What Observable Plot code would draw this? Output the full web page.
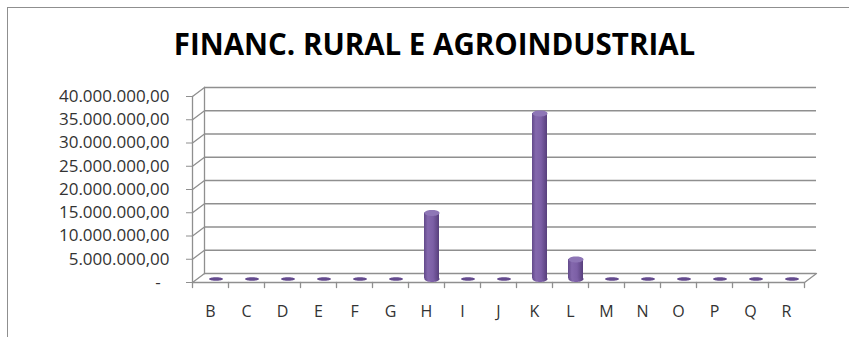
<!DOCTYPE html>
<html><head><meta charset="utf-8">
<script src="https://cdn.jsdelivr.net/npm/d3@7"></script>
<script src="https://cdn.jsdelivr.net/npm/@observablehq/plot@0.6"></script>
<style>
body{margin:0;background:#fff;width:849px;height:337px;overflow:hidden;position:relative;font-family:"Open Sans",sans-serif}
#frame{position:absolute;left:7px;top:7px;width:900px;height:400px;border:1px solid #8f8f8f;}
#title{position:absolute;left:10px;width:849px;top:26px;text-align:center;font-weight:bold;font-size:29.5px;font-family:"Open Sans",sans-serif;color:#000;line-height:36px}
#chart{position:absolute;left:0;top:0}
</style></head><body>
<div id="frame"></div>
<div id="title">FINANC. RURAL E AGROINDUSTRIAL</div>
<div id="chart"></div>
<script>
const categories = ["B","C","D","E","F","G","H","I","J","K","L","M","N","O","P","Q","R"];
const values = [0,0,0,0,0,0,14200000,0,0,35600000,4200000,0,0,0,0,0,0];
const yTicks = [0,5000000,10000000,15000000,20000000,25000000,30000000,35000000,40000000];

const data = categories.map((c, i) => ({cat: c, value: values[i]}));
const br = d3.formatLocale({decimal: ",", thousands: ".", grouping: [3], currency: ["R$", ""]}).format(",.2f");
const fmt = d => d === 0 ? "-\u00a0\u00a0" : br(d);

const grid = "#8f8f8f";
const line = {draw(ctx, l) { ctx.moveTo(0, 0); ctx.lineTo(0, -l); }};
const ellipse = (rx, ry) => ({draw(ctx) {
  ctx.moveTo(rx, 0);
  for (let i = 1; i <= 40; i++) { const a = i / 40 * 2 * Math.PI; ctx.lineTo(rx * Math.cos(a), ry * Math.sin(a)); }
  ctx.closePath();
}});
const BDX = 5.5, BDY = -3.5;

const svg = Plot.plot({
  width: 849, height: 337,
  marginLeft: 192, marginRight: 45, marginTop: 96, marginBottom: 55,
  style: {background: "transparent", overflow: "visible", fontFamily: "'Open Sans', sans-serif"},
  x: {type: "band", domain: categories, padding: 0, label: null},
  y: {domain: [0, 40000000], label: null},
  marks: [
    Plot.ruleY(yTicks, {dx: 12, dy: -9, stroke: grid, strokeWidth: 1.3}),
    Plot.frame({anchor: "left", dx: 12, dy: -9, stroke: grid, strokeWidth: 1.3}),
    Plot.vector(yTicks, {y: d => d, frameAnchor: "left", length: 15, rotate: 53.13, anchor: "start", shape: line, stroke: grid, strokeWidth: 1.3}),
    Plot.vector([0], {y: d => d, frameAnchor: "right", length: 15, rotate: 53.13, anchor: "start", shape: line, stroke: grid, strokeWidth: 1.3}),
    Plot.frame({anchor: "left", stroke: grid, strokeWidth: 1.3}),
    Plot.ruleY([0], {stroke: grid, strokeWidth: 1.3}),
    Plot.vector(categories, {x: d => d, y: () => 0, dx: -18, length: 5, rotate: 180, anchor: "start", shape: line, stroke: grid, strokeWidth: 1.3}),
    Plot.vector([0], {y: d => d, frameAnchor: "right", length: 5, rotate: 180, anchor: "start", shape: line, stroke: grid, strokeWidth: 1.3}),
    Plot.axisY(yTicks, {tickSize: 6, tickPadding: 17, tickFormat: fmt, fontSize: 17, stroke: grid, fill: "#333", label: null}),
    Plot.axisX({tickSize: 0, tickPadding: 23, fontSize: 16, fill: "#333", label: null}),
    Plot.dot(data.filter(d => d.value > 0), {x: "cat", y: () => 0, symbol: ellipse(7.5, 3), fill: "url(#cyl)", stroke: "none", dx: BDX, dy: BDY}),
    Plot.barY(data, {x: "cat", y: "value", fill: "url(#cyl)", insetLeft: 10.5, insetRight: 10.5, dx: BDX, dy: BDY}),
    Plot.dot(data, {x: "cat", y: "value", symbol: d => d.value > 0 ? ellipse(7.5, 3) : ellipse(7, 1.8), fill: d => d.value > 0 ? "#8e76b6" : "#644b8e", stroke: "none", dx: BDX, dy: BDY})
  ]
});
svg.insertAdjacentHTML("afterbegin", `<defs><linearGradient id="cyl" x1="0" x2="1" y1="0" y2="0">
<stop offset="0" stop-color="#62498a"/><stop offset="0.25" stop-color="#8468ad"/>
<stop offset="0.6" stop-color="#7c5fa6"/><stop offset="1" stop-color="#573f7c"/></linearGradient></defs>`);
document.getElementById("chart").appendChild(svg);
</script>
</body></html>
